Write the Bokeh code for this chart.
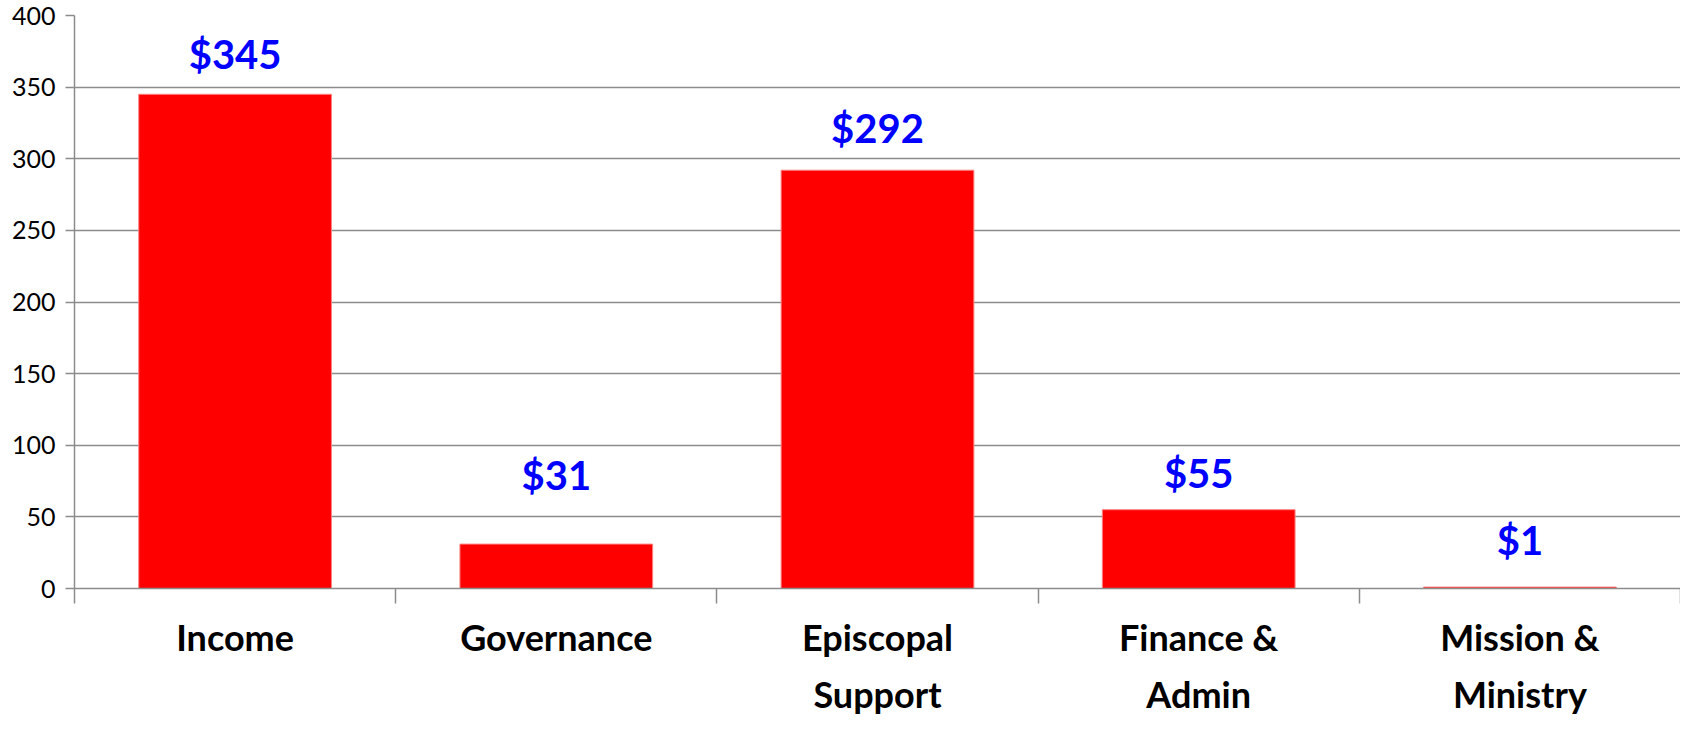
from bokeh.plotting import figure
from bokeh.layouts import column
from bokeh.models import Range1d, FixedTicker, ColumnDataSource
from bokeh.core.properties import value
from bokeh.embed import file_html
from bokeh.resources import INLINE

categories = ["Income", "Governance", "Episcopal\nSupport", "Finance &\nAdmin", "Mission &\nMinistry"]
amounts = [345, 31, 292, 55, 1]
labels = ["$345", "$31", "$292", "$55", "$1"]
label_lift_px = [40, 69, 42, 37, 47]
y_ticks = [0, 50, 100, 150, 200, 250, 300, 350, 400]

xs = [i + 0.5 for i in range(len(categories))]
src = ColumnDataSource(dict(x=xs, top=amounts, lab=labels, off=[-v for v in label_lift_px]))
cat_src = ColumnDataSource(dict(x=xs, name=categories, y=[1] * len(categories)))

xr = Range1d(0, len(categories))
p = figure(width=1680, height=606, output_backend="svg", toolbar_location=None,
           x_range=xr, y_range=Range1d(0, 400),
           min_border_left=74, min_border_right=0, min_border_top=15, min_border_bottom=18)
p.outline_line_color = None
p.background_fill_color = "white"

p.vbar(x="x", top="top", width=0.6, bottom=0, source=src, fill_color="#FF0000",
       line_color="#FF8080", line_width=1)
p.text(x="x", y="top", text="lab", y_offset="off", source=src, text_align="center",
       text_baseline="middle", text_color="#0000FF", text_font_size="40px",
       text_font_style="bold", text_font=value("Lato"))

grid_col = "#8c8c8c"
p.ygrid.ticker = FixedTicker(ticks=y_ticks)
p.ygrid.grid_line_color = grid_col
p.ygrid.grid_line_width = 1.5
p.xgrid.grid_line_color = None

p.yaxis.ticker = FixedTicker(ticks=y_ticks)
p.yaxis.axis_line_color = grid_col
p.yaxis.axis_line_width = 1.5
p.yaxis.major_tick_line_color = grid_col
p.yaxis.major_tick_line_width = 1.5
p.yaxis.major_tick_out = 9
p.yaxis.major_tick_in = 0
p.yaxis.minor_tick_line_color = None
p.yaxis.major_label_text_font = "Lato"
p.yaxis.major_label_text_font_size = "25px"
p.yaxis.major_label_text_color = "black"
p.yaxis.major_label_standoff = 10

p.xaxis.ticker = FixedTicker(ticks=[], minor_ticks=list(range(len(categories) + 1)))
p.xaxis.major_label_standoff = 0
p.xaxis.axis_line_color = grid_col
p.xaxis.axis_line_width = 1.5
p.xaxis.major_tick_line_color = None
p.xaxis.major_tick_out = 0
p.xaxis.minor_tick_line_color = grid_col
p.xaxis.minor_tick_line_width = 1.5
p.xaxis.minor_tick_out = 15
p.xaxis.minor_tick_in = 0

q = figure(width=1680, height=112, output_backend="svg", toolbar_location=None,
           title=None, x_range=xr, y_range=Range1d(0, 1), x_axis_location=None,
           y_axis_location=None, min_border=0, min_border_left=74, min_border_right=0)
q.outline_line_color = None
q.grid.visible = False
q.text(x="x", y="y", text="name", source=cat_src, y_offset=8, text_align="center",
       text_baseline="top", text_font=value("Lato"), text_font_style="bold",
       text_font_size="36px", text_color="black", text_line_height=1.3)

open("out.html", "w").write(file_html(column(p, q, spacing=0), INLINE))
